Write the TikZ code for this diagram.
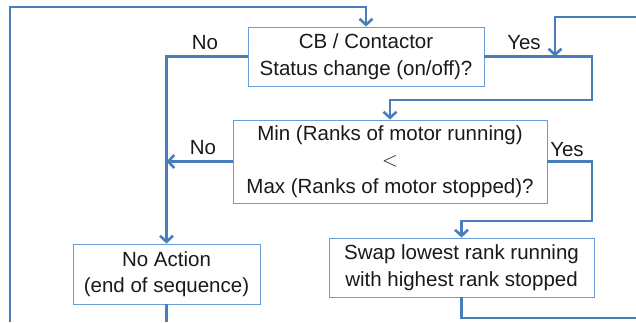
\documentclass[tikz,border=0pt]{standalone}
\usepackage{fontspec}
\setmainfont{Liberation Sans}
\usepackage{xcolor}
\usepackage{tikz}
\usetikzlibrary{arrows.meta}

\definecolor{flowblue}{RGB}{74,126,187}
\definecolor{boxblue}{RGB}{108,156,212}
\definecolor{txtgray}{RGB}{26,26,26}

\begin{document}
\begin{tikzpicture}[x=1pt,y=-1pt,
          box/.style={draw=boxblue,line width=0.9pt,fill=white,align=center,inner sep=0pt,
                      text=txtgray,font=\fontsize{20.5}{26.5}\selectfont},
          flow/.style={draw=flowblue,line width=2.8pt},
          arr/.style={flow,-{Straight Barb[length=6pt,width=13pt,line width=2.6pt]}},
          lbl/.style={text=txtgray,font=\fontsize{20.5}{26}\selectfont,inner sep=0pt}]
          \useasboundingbox (0,0) rectangle (636,322);
          % decision and action boxes
          \node[box,minimum width=236pt,minimum height=59pt](status) at (366,56.5)
            {CB / Contactor\\Status change (on/off)?};
          \node[box,minimum width=314pt,minimum height=83pt](compare) at (390,161.5)
            {Min (Ranks of motor running)\\$<$\\Max (Ranks of motor stopped)?};
          \node[box,minimum width=187pt,minimum height=60pt](noaction) at (166.5,274)
            {No Action\\(end of sequence)};
          \node[box,minimum width=265pt,minimum height=59pt](swap) at (461.5,267.5)
            {Swap lowest rank running\\with highest rank stopped};
          % loose ends at the page border
          \coordinate (loopin) at (10,322);
          \coordinate (looptop) at (366,7);
          \coordinate (rightin) at (636,17);
          \coordinate (merge) at (555,56.5);
          \coordinate (rightout) at (636,318);
          \coordinate (downout) at (166.5,322);
          % connectors
          \draw[arr](loopin)|-(looptop)--(status.north);
          \draw[arr](rightin)-|(merge);
          \draw[arr](status.west)-|(noaction.north);
          \draw[arr](status.east)-|(592,100)-|(compare.north);
          \draw[arr](compare.west)--(compare.west-|noaction.north);
          \draw[arr](compare.east)-|(592,221)-|(swap.north);
          \draw[flow](swap.south)|-(rightout);
          \draw[flow](noaction.south)--(downout);
          % branch labels
          \node[lbl](no1) at (205,43){No};
          \node[lbl](yes1) at (524,43){Yes};
          \node[lbl](no2) at (203,148){No};
          \node[lbl](yes2) at (567,150){Yes};
        \end{tikzpicture}
\end{document}
